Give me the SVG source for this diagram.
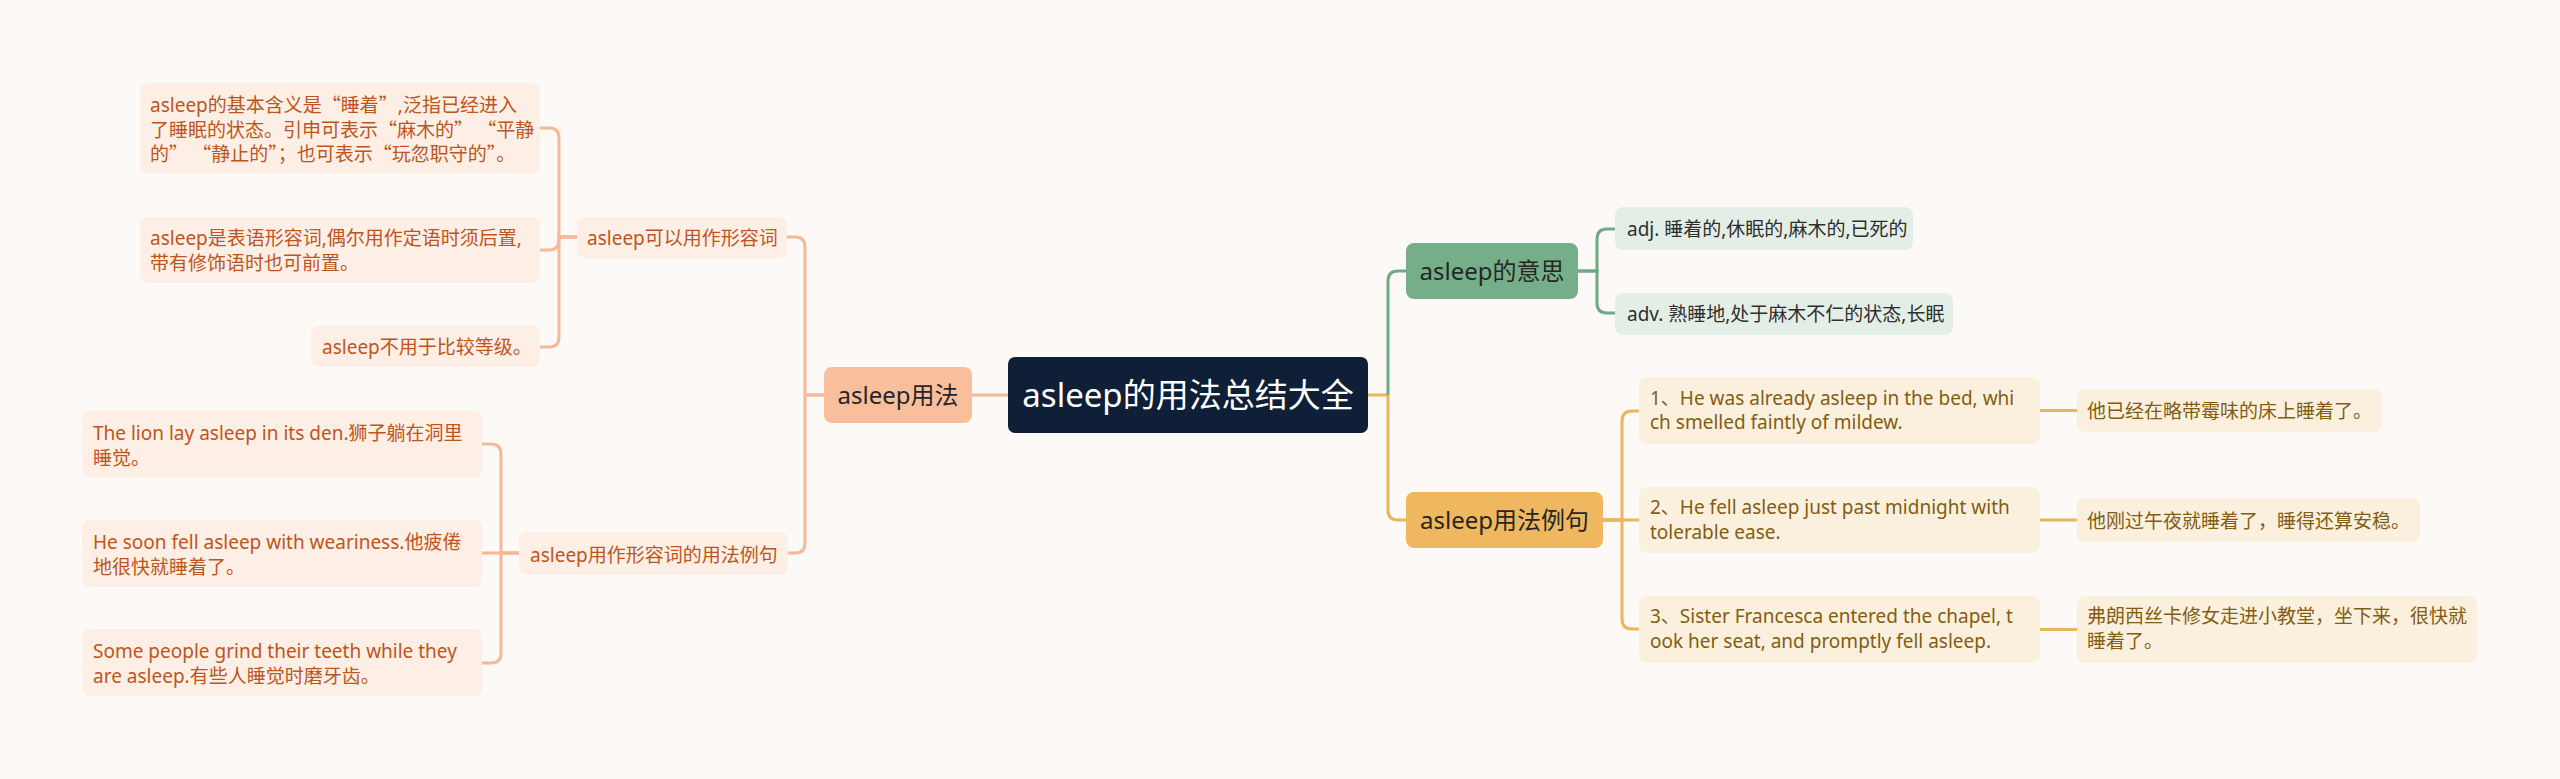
<svg xmlns="http://www.w3.org/2000/svg" width="2560" height="779" viewBox="0 0 2560 779">
<style>
text{font-family:"Noto Sans","Noto Sans CJK SC",sans-serif;}
.q{font-family:"Noto Sans CJK SC",sans-serif;}
.sub{font-size:19px;}
.mid{font-size:24px;fill:#262626;}
.root{font-size:33px;fill:#ffffff;}
.pk{fill:#fdefe5;}
.pkt{fill:#bd5520;}
.gr{fill:#e3efe6;}
.grt{fill:#2e2e2e;}
.yl{fill:#fbf0dd;}
.ylt{fill:#835d10;}
.cp{fill:none;stroke:#f4ba97;stroke-width:3;}
.cg{fill:none;stroke:#70aa85;stroke-width:3;}
.cy{fill:none;stroke:#ebb55c;stroke-width:3;}
</style>
<rect x="0" y="0" width="2560" height="779" fill="#fdf9f7"/>
<g id="connectors">
<path class="cp" d="M1008 395 H972"/>
<path class="cp" d="M824 395 H805 V247 Q805 237 795 237 H787"/>
<path class="cp" d="M824 395 H805 V543 Q805 553 795 553 H788"/>
<path class="cp" d="M577 237 H559 V138 Q559 128 549 128 H540"/>
<path class="cp" d="M577 237 H559 V240 Q559 250 549 250 H540"/>
<path class="cp" d="M577 237 H559 V337 Q559 347 549 347 H540"/>
<path class="cp" d="M519 553 H501 V454 Q501 444 491 444 H482"/>
<path class="cp" d="M519 553 H482"/>
<path class="cp" d="M519 553 H501 V653 Q501 663 491 663 H482"/>
<path class="cy" d="M1368 395 H1388 V510 Q1388 520 1398 520 H1406"/>
<path class="cg" d="M1388 395 V281 Q1388 271 1398 271 H1406"/>
<path class="cg" d="M1578 271 H1597 V239 Q1597 229 1607 229 H1615"/>
<path class="cg" d="M1578 271 H1597 V303 Q1597 313 1607 313 H1615"/>
<path class="cy" d="M1603 520 H1622 V421 Q1622 411 1632 411 H1639"/>
<path class="cy" d="M1603 520 H1639"/>
<path class="cy" d="M1603 520 H1622 V619 Q1622 629 1632 629 H1639"/>
<path class="cy" d="M2040 410.5 H2077"/>
<path class="cy" d="M2040 520 H2077"/>
<path class="cy" d="M2040 629.5 H2077"/>
</g>
<g id="root">
<rect x="1008" y="357" width="360" height="76" rx="7" fill="#0e1f37"/>
<text class="root" x="1188" y="407" text-anchor="middle">asleep的用法总结大全</text>
</g>
<g id="usage">
<rect x="824" y="367" width="148" height="56" rx="8" fill="#f9bf9c"/>
<text class="mid" x="898" y="404" text-anchor="middle">asleep用法</text>
</g>
<g id="meaning">
<rect x="1406" y="243" width="172" height="56" rx="8" fill="#75ae88"/>
<text class="mid" x="1492" y="279.5" text-anchor="middle">asleep的意思</text>
</g>
<g id="examples">
<rect x="1406" y="492" width="197" height="56" rx="8" fill="#efb860"/>
<text class="mid" x="1504.5" y="528.5" text-anchor="middle">asleep用法例句</text>
</g>
<g id="adj-node">
<rect class="pk" x="577" y="217" width="210" height="41" rx="8"/>
<text class="sub pkt" x="587" y="245">asleep可以用作形容词</text>
</g>
<g id="adj-example-node">
<rect class="pk" x="519" y="532" width="269" height="43" rx="8"/>
<text class="sub pkt" x="530" y="561.5">asleep用作形容词的用法例句</text>
</g>
<g id="a1">
<rect class="pk" x="140" y="83" width="400" height="91" rx="8"/>
<text class="sub pkt" x="150" y="112">asleep的基本含义是<tspan class="q">“</tspan>睡着<tspan class="q">”</tspan>,泛指已经进入</text>
<text class="sub pkt" x="150" y="136.5">了睡眠的状态。引申可表示<tspan class="q">“</tspan>麻木的<tspan class="q">” “</tspan>平静</text>
<text class="sub pkt" x="150" y="161">的<tspan class="q">” “</tspan>静止的<tspan class="q">”；</tspan>也可表示<tspan class="q">“</tspan>玩忽职守的<tspan class="q">”。</tspan></text>
</g>
<g id="a2">
<rect class="pk" x="140" y="217" width="400" height="66" rx="8"/>
<text class="sub pkt" x="150" y="245">asleep是表语形容词,偶尔用作定语时须后置,</text>
<text class="sub pkt" x="150" y="270">带有修饰语时也可前置。</text>
</g>
<g id="a3">
<rect class="pk" x="311" y="326" width="229" height="41" rx="8"/>
<text class="sub pkt" x="322" y="354">asleep不用于比较等级。</text>
</g>
<g id="c1">
<rect class="pk" x="82" y="411" width="400" height="67" rx="8"/>
<text class="sub pkt" x="93" y="440">The lion lay asleep in its den.狮子躺在洞里</text>
<text class="sub pkt" x="93" y="464.5">睡觉。</text>
</g>
<g id="c2">
<rect class="pk" x="82" y="520" width="400" height="67" rx="8"/>
<text class="sub pkt" x="93" y="549">He soon fell asleep with weariness.他疲倦</text>
<text class="sub pkt" x="93" y="573.5">地很快就睡着了。</text>
</g>
<g id="c3">
<rect class="pk" x="82" y="629" width="400" height="67" rx="8"/>
<text class="sub pkt" x="93" y="658">Some people grind their teeth while they</text>
<text class="sub pkt" x="93" y="682.5">are asleep.有些人睡觉时磨牙齿。</text>
</g>
<g id="d1">
<rect class="gr" x="1615" y="207" width="298" height="43" rx="8"/>
<text class="sub grt" x="1627" y="235.5">adj. 睡着的,休眠的,麻木的,已死的</text>
</g>
<g id="d2">
<rect class="gr" x="1615" y="293" width="338" height="42" rx="8"/>
<text class="sub grt" x="1627" y="321">adv. 熟睡地,处于麻木不仁的状态,长眠</text>
</g>
<g id="e1">
<rect class="yl" x="1639" y="377" width="401" height="67" rx="8"/>
<text class="sub ylt" x="1650" y="404.5">1、He was already asleep in the bed, whi</text>
<text class="sub ylt" x="1650" y="429">ch smelled faintly of mildew.</text>
</g>
<g id="e2">
<rect class="yl" x="1639" y="487" width="401" height="66" rx="8"/>
<text class="sub ylt" x="1650" y="514">2、He fell asleep just past midnight with</text>
<text class="sub ylt" x="1650" y="539">tolerable ease.</text>
</g>
<g id="e3">
<rect class="yl" x="1639" y="596" width="401" height="67" rx="8"/>
<text class="sub ylt" x="1650" y="623">3、Sister Francesca entered the chapel, t</text>
<text class="sub ylt" x="1650" y="647.5">ook her seat, and promptly fell asleep.</text>
</g>
<g id="f1">
<rect class="yl" x="2077" y="389" width="305" height="43" rx="8"/>
<text class="sub ylt" x="2087" y="418">他已经在略带霉味的床上睡着了。</text>
</g>
<g id="f2">
<rect class="yl" x="2077" y="498" width="343" height="44" rx="8"/>
<text class="sub ylt" x="2087" y="527.5">他刚过午夜就睡着了，睡得还算安稳。</text>
</g>
<g id="f3">
<rect class="yl" x="2077" y="596" width="400" height="67" rx="8"/>
<text class="sub ylt" x="2087" y="623">弗朗西丝卡修女走进小教堂，坐下来，很快就</text>
<text class="sub ylt" x="2087" y="648">睡着了。</text>
</g>
</svg>
